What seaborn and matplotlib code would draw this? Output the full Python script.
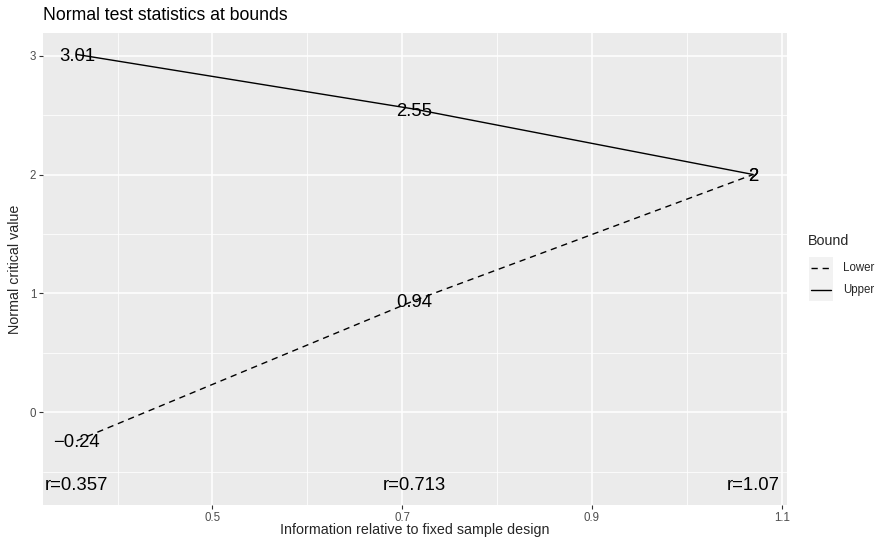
import matplotlib
matplotlib.use("Agg")
import matplotlib.pyplot as plt
from matplotlib.lines import Line2D
from matplotlib.patches import Rectangle
from matplotlib.ticker import MultipleLocator
import numpy as np
import pandas as pd
import seaborn as sns

# Information fraction at each analysis and the normal critical values
info = [0.357, 0.713, 1.07]
upper = [3.01, 2.55, 2.0]
lower = [-0.24, 0.94, 2.0]
upper_labels = ["3.01", "2.55", "2"]
lower_labels = ["\u22120.24", "0.94", "2"]
r_labels = ["r=0.357", "r=0.713", "r=1.07"]
r_label_y = -0.6
bound_names = ["Lower", "Upper"]
x_ticks = [0.5, 0.7, 0.9, 1.1]
x_tick_labels = ["0.5", "0.7", "0.9", "1.1"]
y_ticks = [0, 1, 2, 3]
y_tick_labels = ["0", "1", "2", "3"]

df = pd.DataFrame({
    "info": info * 2,
    "z": lower + upper,
    "Bound": ["Lower"] * 3 + ["Upper"] * 3,
})

sns.set_theme(style="darkgrid")
plt.rcParams["font.family"] = ["Liberation Sans", "DejaVu Sans"]

W, H = 876, 542
fig = plt.figure(figsize=(W / 100, H / 100), dpi=100)
ax = fig.add_axes([43 / W, 37 / H, 744 / W, 472 / H])
ax.set_facecolor("#EBEBEB")

dash_map = {"Lower": (4.5, 3.5), "Upper": ""}
sns.lineplot(data=df, x="info", y="z", style="Bound", dashes=dash_map,
             color="black", linewidth=1.0, legend=False, ax=ax,
             estimator=None, sort=True)

# Value labels centred on the digits' cap height
label_size = 13.3
half_cap = 0.716 * label_size / 2


def put_label(x, y, text):
    ax.annotate(text, (x, y), xytext=(0, -half_cap), textcoords="offset points",
                ha="center", va="baseline", fontsize=label_size, color="black")


for x, y, t in zip(info, upper, upper_labels):
    put_label(x, y, t)
for x, y, t in zip(info, lower, lower_labels):
    put_label(x, y, t)
for x, t in zip(info, r_labels):
    put_label(x, r_label_y, t)

# ggplot-style expanded limits
xs = np.array(info)
xr = xs.max() - xs.min()
ax.set_xlim(xs.min() - 0.05 * xr, xs.max() + 0.05 * xr)
ys = np.array(upper + lower + [r_label_y])
yr = ys.max() - ys.min()
ax.set_ylim(ys.min() - 0.05 * yr, ys.max() + 0.05 * yr)

ax.set_xticks(x_ticks)
ax.set_xticklabels(x_tick_labels)
ax.set_yticks(y_ticks)
ax.set_yticklabels(y_tick_labels)
ax.xaxis.set_minor_locator(MultipleLocator(0.1))
ax.yaxis.set_minor_locator(MultipleLocator(0.5))

ax.grid(which="major", color="white", linewidth=1.1)
ax.grid(which="minor", color="white", linewidth=0.55)
ax.set_axisbelow(True)
for s in ax.spines.values():
    s.set_visible(False)

ax.tick_params(axis="both", which="major", length=3, width=0.8,
               color="#333333", labelsize=8.3, labelcolor="#4D4D4D", pad=2,
               bottom=True, left=True)
ax.tick_params(axis="both", which="minor", length=0)

ax.set_xlabel("")
ax.set_ylabel("")
fig.text(415 / W, 1 - 530 / H, "Information relative to fixed sample design",
         fontsize=10.3, ha="center", va="center")
fig.text(15 / W, 1 - 269 / H, "Normal critical value", fontsize=10.3,
         ha="center", va="center", rotation=90)
fig.text(43 / W, 1 - 15 / H, "Normal test statistics at bounds",
         fontsize=12.7, ha="left", va="center", color="black")

# Legend drawn with grey key backgrounds
fig.text(808 / W, 1 - 241 / H, "Bound", fontsize=10.3, ha="left", va="center")
key_y = [268, 290]
for yy, name in zip(key_y, bound_names):
    fig.patches.append(Rectangle((809 / W, 1 - (yy + 11) / H), 24 / W, 22 / H,
                                 transform=fig.transFigure, facecolor="#F2F2F2",
                                 edgecolor="none", zorder=1))
    ls = (0, (4.5, 3.5)) if name == "Lower" else "-"
    fig.lines.append(Line2D([811 / W, 831 / W], [1 - yy / H] * 2,
                            transform=fig.transFigure, color="black",
                            linewidth=1.0, linestyle=ls, zorder=2))
    fig.text(843 / W, 1 - yy / H, name, fontsize=8.3, ha="left", va="center")

fig.savefig("out.png", dpi=100)
